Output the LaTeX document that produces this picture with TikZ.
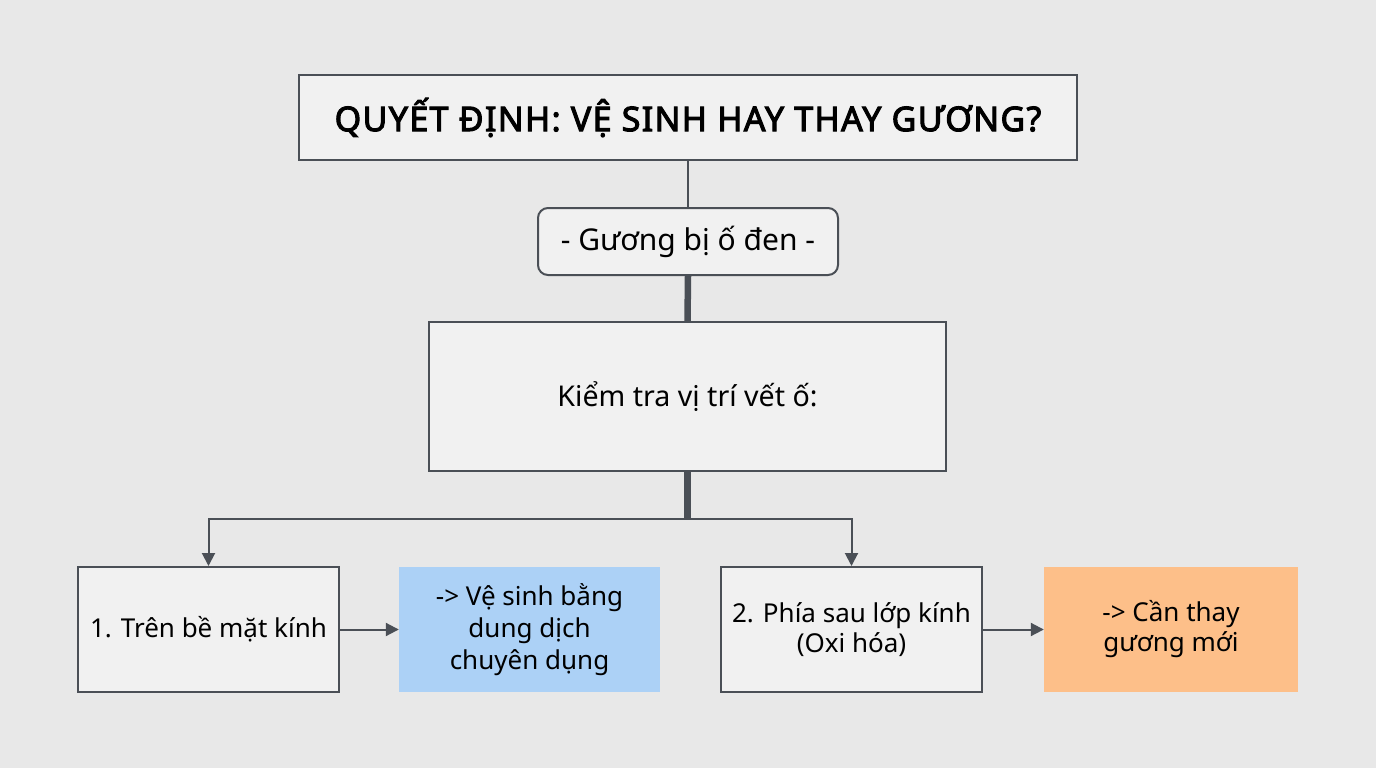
\documentclass[tikz,border=0pt]{standalone}
\usepackage{fontspec}
\setmainfont{Noto Sans}
\newfontfamily\titlefont{Noto Sans}[FakeBold=3,LetterSpace=4]
\usetikzlibrary{arrows.meta}
\definecolor{bgc}{HTML}{E8E8E8}
\definecolor{boxc}{HTML}{F1F1F1}
\definecolor{edgec}{HTML}{4A4F56}
\definecolor{bluec}{HTML}{ACD1F6}
\definecolor{orangec}{HTML}{FDBF89}
\tikzset{
  plainbox/.style={draw=edgec, line width=2pt, fill=boxc, inner sep=0pt, align=center, text=black},
  colbox/.style={inner sep=0pt, align=center, text=black},
  thinline/.style={draw=edgec, line width=2pt},
  thickline/.style={draw=edgec, line width=6.5pt},
  arr/.style={draw=edgec, line width=2pt, -{Triangle[length=13pt,width=13pt]}},
  smalltext/.style={font=\fontsize{26}{32}\selectfont},
}
\begin{document}
\begin{tikzpicture}[x=1pt,y=-1pt]
\fill[bgc] (0,0) rectangle (1376,768);
\useasboundingbox (0,0) rectangle (1376,768);
\node[plainbox, minimum width=778pt, minimum height=85pt, font=\titlefont\fontsize{34}{38}\selectfont] (title) at (688,117.5) {\raisebox{2pt}{QUYẾT ĐỊNH: VỆ SINH HAY THAY GƯƠNG?}};
\node[plainbox, rounded corners=10pt, minimum width=300pt, minimum height=67pt, font=\fontsize{30}{36}\selectfont] (sub) at (688,241.5) {- Gương bị ố đen -};
\node[plainbox, minimum width=517pt, minimum height=149pt, font=\fontsize{28.6}{34}\selectfont] (check) at (687.5,396.5) {Kiểm tra vị trí vết ố:};
\node[plainbox, smalltext, minimum width=261pt, minimum height=125pt] (b1) at (208.5,629.5) {1. Trên bề mặt kính};
\node[colbox, smalltext, fill=bluec, minimum width=261pt, minimum height=125pt] (r1) at (529.5,629.5) {-> Vệ sinh bằng\\dung dịch\\chuyên dụng};
\node[plainbox, minimum width=261pt, minimum height=125pt, font=\fontsize{26}{30}\selectfont] (b2) at (851.5,629.5) {2. Phía sau lớp kính\\(Oxi hóa)};
\node[colbox, fill=orangec, minimum width=254pt, minimum height=125pt, font=\fontsize{26}{30}\selectfont] (r2) at (1171,629.5) {-> Cần thay\\gương mới};
\draw[thinline] (title.south) -- (sub.north);
\draw[thickline] (sub.south) -- (check.north);
\draw[thickline] (check.south) -- ++(0,47) coordinate (j);
\draw[arr] (j) -| (b1.north);
\draw[arr] (j) -| (b2.north);
\draw[arr] (b1.east) -- (r1.west);
\draw[arr] (b2.east) -- (r2.west);
\end{tikzpicture}
\end{document}
